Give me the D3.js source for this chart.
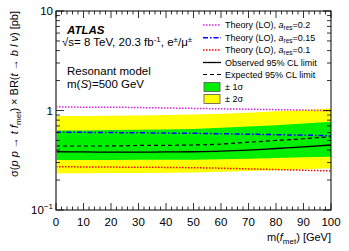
<!DOCTYPE html>
<html><head><meta charset="utf-8">
<script src="https://cdn.jsdelivr.net/npm/d3@7"></script>
<style>body{margin:0;background:#fff}svg text{font-family:"Liberation Sans",Arial,sans-serif}</style>
</head><body><svg id="c" width="349" height="251"></svg>
<script>
const masses = [0,10,20,30,40,50,60,70,80,90,100];
const theory02  = [1.09,1.08,1.08,1.07,1.06,1.05,1.04,1.03,1.02,1.01,0.99];
const theory015 = [0.605,0.603,0.60,0.597,0.593,0.59,0.584,0.578,0.571,0.565,0.558];
const theory01  = [0.272,0.271,0.27,0.269,0.268,0.266,0.263,0.259,0.255,0.251,0.247];
const observed  = [0.385,0.383,0.382,0.382,0.383,0.385,0.39,0.40,0.415,0.43,0.45];
const expected  = [0.44,0.44,0.44,0.445,0.447,0.45,0.46,0.48,0.50,0.52,0.545];
const sig1Up    = [0.63,0.63,0.635,0.64,0.645,0.65,0.67,0.69,0.71,0.74,0.77];
const sig1Dn    = [0.318,0.318,0.318,0.319,0.32,0.32,0.324,0.328,0.333,0.338,0.343];
const sig2Up    = [0.88,0.88,0.885,0.89,0.90,0.91,0.93,0.95,0.98,1.01,1.05];
const sig2Dn    = [0.234,0.234,0.235,0.236,0.237,0.238,0.242,0.246,0.251,0.257,0.263];
const xTicks = [0,10,20,30,40,50,60,70,80,90,100];

const svg = d3.select("#c");
const L=56,R=331,T=11,B=210;
const x = d3.scaleLinear().domain([0,100]).range([L,R]);
const y = d3.scaleLog().domain([0.1,10]).range([B,T]);

const band = (up,dn)=>d3.area().x((d,i)=>x(masses[i])).y0((d,i)=>y(dn[i])).y1((d,i)=>y(up[i]))(masses);
svg.append("path").attr("d",band(sig2Up,sig2Dn)).attr("fill","#ffff00");
svg.append("path").attr("d",band(sig1Up,sig1Dn)).attr("fill","#00ee00");
const line = arr=>d3.line().x((d,i)=>x(masses[i])).y((d,i)=>y(arr[i])).curve(d3.curveMonotoneX)(masses);
svg.append("path").attr("d",line(expected)).attr("fill","none").attr("stroke","#000").attr("stroke-width",1.2).attr("stroke-dasharray","4,3");
svg.append("path").attr("d",line(observed)).attr("fill","none").attr("stroke","#000").attr("stroke-width",1.3);
svg.append("path").attr("d",line(theory02)).attr("fill","none").attr("stroke","#e020e0").attr("stroke-width",1.5).attr("stroke-dasharray","1.5,1.5");
svg.append("path").attr("d",line(theory015)).attr("fill","none").attr("stroke","#0000ff").attr("stroke-width",1.5).attr("stroke-dasharray","5,2,1.5,2");
svg.append("path").attr("d",line(theory01)).attr("fill","none").attr("stroke","#ff0000").attr("stroke-width",1.5).attr("stroke-dasharray","1.5,1.5");

// frame
svg.append("rect").attr("x",L).attr("y",T).attr("width",R-L).attr("height",B-T).attr("fill","none").attr("stroke","#000").attr("stroke-width",1);
svg.append("line").attr("x1",L).attr("x2",L).attr("y1",T).attr("y2",B).attr("stroke","#777").attr("stroke-width",1.5);

// x ticks
const xg = svg.append("g");
for(let v=0;v<=100;v+=2){
  const len = v%10===0?7:3.5;
  xg.append("line").attr("x1",x(v)).attr("x2",x(v)).attr("y1",B).attr("y2",B-len).attr("stroke","#000").attr("stroke-width",0.8);
  xg.append("line").attr("x1",x(v)).attr("x2",x(v)).attr("y1",T).attr("y2",T+len).attr("stroke","#000").attr("stroke-width",0.8);
}
xTicks.forEach(v=>xg.append("text").attr("x",x(v)).attr("y",226).attr("text-anchor","middle").attr("font-size",11.5).text(v));

// y ticks
const yg = svg.append("g");
[0.1,1,10].forEach(v=>{
  yg.append("line").attr("x1",L).attr("x2",L+8).attr("y1",y(v)).attr("y2",y(v)).attr("stroke","#000").attr("stroke-width",0.8);
  yg.append("line").attr("x1",R).attr("x2",R-8).attr("y1",y(v)).attr("y2",y(v)).attr("stroke","#000").attr("stroke-width",0.8);
});
[0.1,1].forEach(d=>{for(let k=2;k<=9;k++){const v=d*k;
  yg.append("line").attr("x1",L).attr("x2",L+4).attr("y1",y(v)).attr("y2",y(v)).attr("stroke","#000").attr("stroke-width",0.8);
  yg.append("line").attr("x1",R).attr("x2",R-4).attr("y1",y(v)).attr("y2",y(v)).attr("stroke","#000").attr("stroke-width",0.8);
}});
yg.append("text").attr("x",53).attr("y",y(10)+4).attr("text-anchor","end").attr("font-size",11.5).text("10");
yg.append("text").attr("x",53).attr("y",y(1)+4).attr("text-anchor","end").attr("font-size",11.5).text("1");
const t01 = yg.append("text").attr("x",53).attr("y",y(0.1)+4).attr("text-anchor","end").attr("font-size",11.5);
t01.append("tspan").text("10");
t01.append("tspan").attr("dy",-5).attr("font-size",8).text("−1");

// axis titles
const xt = svg.append("text").attr("x",R).attr("y",241).attr("text-anchor","end").attr("font-size",11);
xt.append("tspan").text("m(");
xt.append("tspan").attr("font-style","italic").text("f");
xt.append("tspan").attr("dy",2.5).attr("font-size",8).text("met");
xt.append("tspan").attr("dy",-2.5).text(") [GeV]");

const yt = svg.append("text").attr("transform","translate(18,"+T+") rotate(-90)").attr("text-anchor","end").attr("font-size",11);
yt.append("tspan").text("σ(");
yt.append("tspan").attr("font-style","italic").text("p p");
yt.append("tspan").text(" → ");
yt.append("tspan").attr("font-style","italic").text("t f");
yt.append("tspan").attr("dy",2.5).attr("font-size",8).text("met");
yt.append("tspan").attr("dy",-2.5).text(") × BR(");
yt.append("tspan").attr("font-style","italic").text("t");
yt.append("tspan").text(" → ");
yt.append("tspan").attr("font-style","italic").text("b l ν");
yt.append("tspan").text(") [pb]");

// labels
svg.append("text").attr("x",67).attr("y",34).attr("font-size",11.5).attr("font-weight","bold").attr("font-style","italic").text("ATLAS");
const lt = svg.append("text").attr("x",62).attr("y",46).attr("font-size",11.5);
lt.append("tspan").text("√s= 8 TeV, 20.3 fb");
lt.append("tspan").attr("dy",-4.5).attr("font-size",8).text("-1");
lt.append("tspan").attr("dy",4.5).text(", e");
lt.append("tspan").attr("dy",-4.5).attr("font-size",8).text("±");
lt.append("tspan").attr("dy",4.5).text("/μ");
lt.append("tspan").attr("dy",-4.5).attr("font-size",8).text("±");
svg.append("text").attr("x",67).attr("y",75).attr("font-size",11.5).text("Resonant model");
const ms = svg.append("text").attr("x",67).attr("y",88).attr("font-size",11.5);
ms.append("tspan").text("m(");
ms.append("tspan").attr("font-style","italic").text("S");
ms.append("tspan").text(")=500 GeV");

// legend
const lg = svg.append("g").attr("font-size",9);
const rows = [25,37.7,50,62.5,74.5,87,99];
function legLine(yy,color,dash,w){lg.append("line").attr("x1",203).attr("x2",221).attr("y1",yy).attr("y2",yy).attr("stroke",color).attr("stroke-width",w).attr("stroke-dasharray",dash);}
function theoryText(yy,val){const t=lg.append("text").attr("x",225).attr("y",yy+3);t.append("tspan").text("Theory (LO), ");t.append("tspan").attr("font-style","italic").text("a");t.append("tspan").attr("dy",2).attr("font-size",6.5).text("res");t.append("tspan").attr("dy",-2).text("="+val);}
legLine(rows[0],"#e020e0","1.5,1.5",1.5); theoryText(rows[0],"0.2");
legLine(rows[1],"#0000ff","5,2,1.5,2",1.5); theoryText(rows[1],"0.15");
legLine(rows[2],"#ff0000","1.5,1.5",1.5); theoryText(rows[2],"0.1");
legLine(rows[3],"#000",null,1.3); lg.append("text").attr("x",225).attr("y",rows[3]+3).text("Observed 95% CL limit");
legLine(rows[4],"#000","4,3",1.2); lg.append("text").attr("x",225).attr("y",rows[4]+3).text("Expected 95% CL limit");
lg.append("rect").attr("x",204).attr("y",rows[5]-4.5).attr("width",16).attr("height",9).attr("fill","#00ee00").attr("stroke","#555").attr("stroke-width",0.8);
lg.append("text").attr("x",225).attr("y",rows[5]+3).text("± 1σ");
lg.append("rect").attr("x",204).attr("y",rows[6]-4.5).attr("width",16).attr("height",9).attr("fill","#ffff00").attr("stroke","#555").attr("stroke-width",0.8);
lg.append("text").attr("x",225).attr("y",rows[6]+3).text("± 2σ");
</script></body></html>
